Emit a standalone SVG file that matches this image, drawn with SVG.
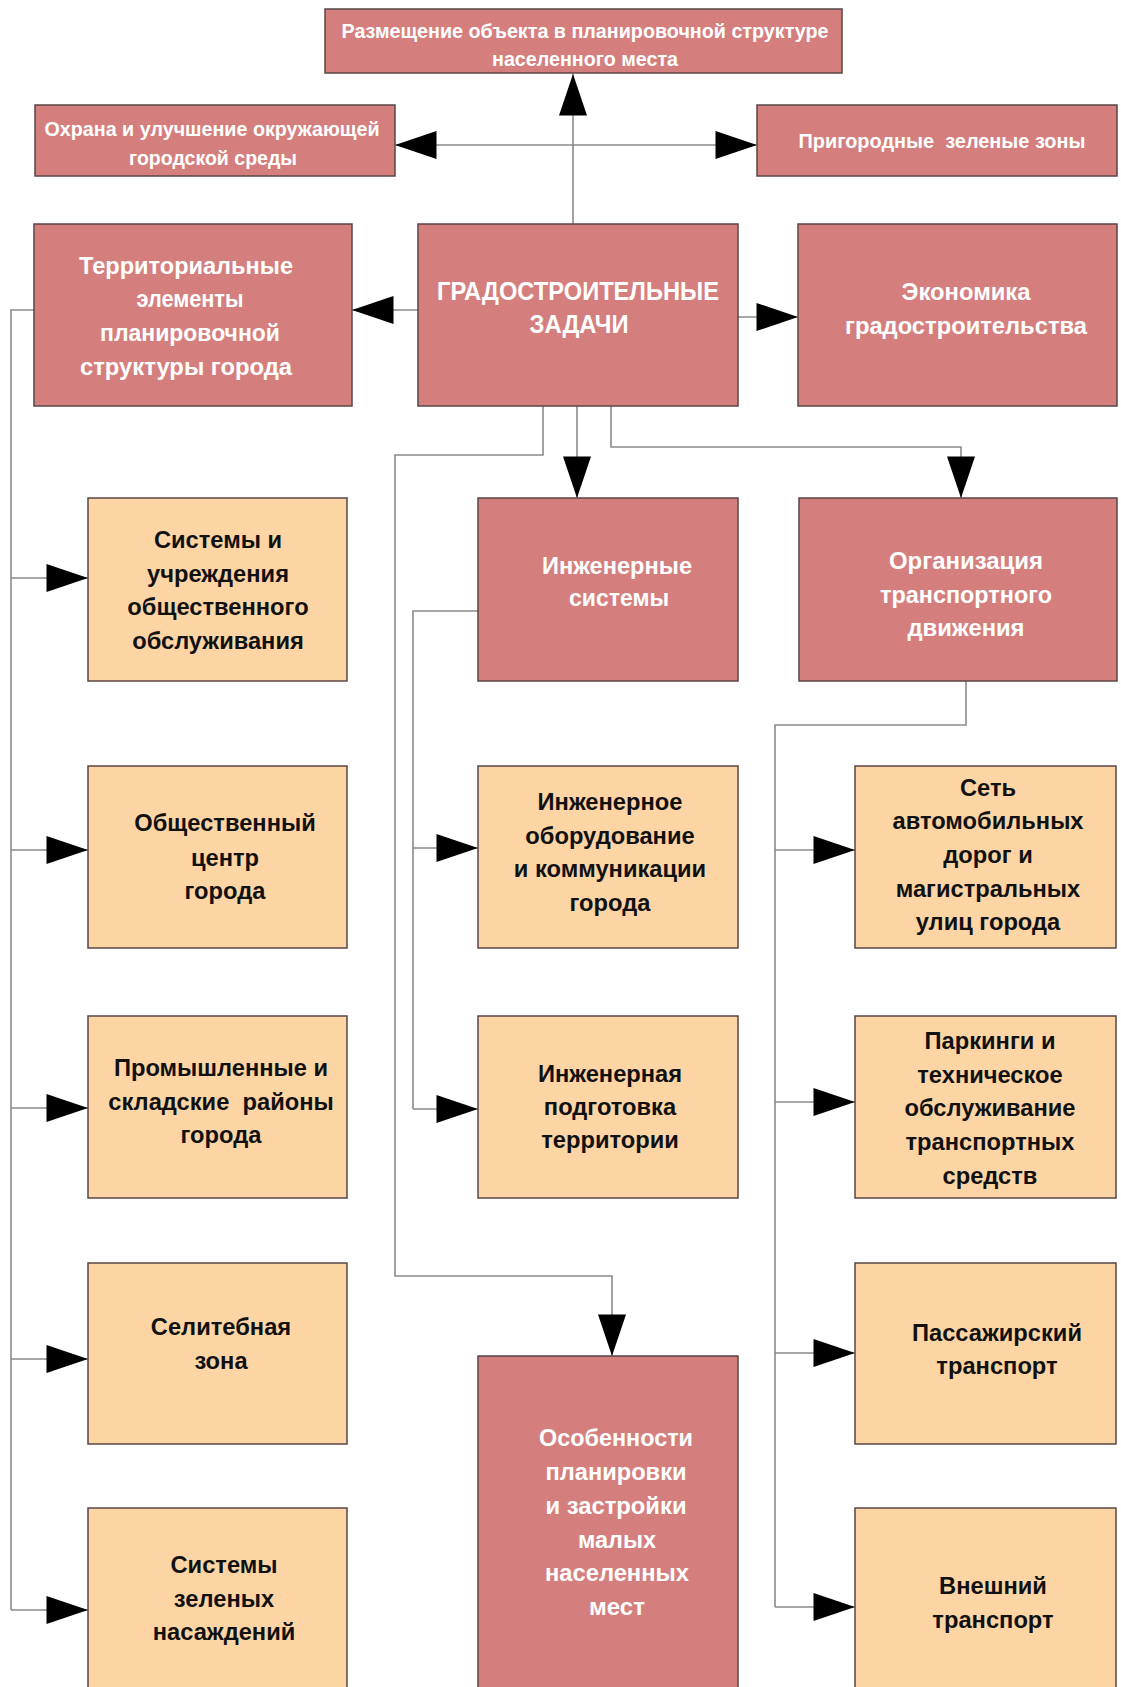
<svg xmlns="http://www.w3.org/2000/svg" width="1121" height="1687" viewBox="0 0 1121 1687">
<style>
.r{fill:#d47f7e;stroke:#5a4646;stroke-width:1.5}
.o{fill:#fdd5a5;stroke:#5a4646;stroke-width:1.5}
.tw{font-family:"Liberation Sans",Arial,sans-serif;font-weight:bold;fill:#ffffff;text-anchor:middle;dominant-baseline:central;white-space:pre}
.tb{font-family:"Liberation Sans",Arial,sans-serif;font-weight:bold;fill:#111111;text-anchor:middle;dominant-baseline:central;font-size:23.7px;white-space:pre}
.c{fill:none;stroke:#8a8a8a;stroke-width:1.6}
.a{marker-end:url(#ah)}
</style>
<defs>
<marker id="ah" markerUnits="userSpaceOnUse" markerWidth="42" markerHeight="28" refX="40" refY="13.5" orient="auto-start-reverse" viewBox="0 0 40 27">
<path d="M0,0 L40,13.5 L0,27 z" fill="#000"/>
</marker>
</defs>
<rect width="1121" height="1687" fill="#ffffff"/>
<g id="connectors">
<path class="c a" d="M573,224 V74"/>
<path class="c" d="M395,145 H757" marker-start="url(#ah)" marker-end="url(#ah)"/>
<path class="c a" d="M418,310 H352"/>
<path class="c a" d="M738,317 H798"/>
<path class="c a" d="M577,406 V498"/>
<path class="c a" d="M611,406 V447 H961 V498"/>
<path class="c a" d="M543,406 V455 H395 V1276 H612 V1356"/>
<path class="c" d="M34,310 H11 V1610"/>
<path class="c a" d="M11,578 H88"/>
<path class="c a" d="M11,850 H88"/>
<path class="c a" d="M11,1108 H88"/>
<path class="c a" d="M11,1359 H88"/>
<path class="c a" d="M11,1610 H88"/>
<path class="c" d="M478,611 H413 V1109"/>
<path class="c a" d="M413,848 H478"/>
<path class="c a" d="M413,1109 H478"/>
<path class="c" d="M966,681 V725 H775 V1607"/>
<path class="c a" d="M775,850 H855"/>
<path class="c a" d="M775,1102 H855"/>
<path class="c a" d="M775,1353 H855"/>
<path class="c a" d="M775,1607 H855"/>
</g>
<g id="n-razmeshenie">
<rect class="r" x="325" y="9" width="517" height="64"/>
<text class="tw" font-size="21" x="585" y="30" textLength="487" lengthAdjust="spacingAndGlyphs">Размещение объекта в планировочной структуре</text>
<text class="tw" font-size="21" x="585" y="58" textLength="186" lengthAdjust="spacingAndGlyphs">населенного места</text>
</g>
<g id="n-ohrana">
<rect class="r" x="35" y="105" width="360" height="71"/>
<text class="tw" font-size="21" x="212" y="128" textLength="335" lengthAdjust="spacingAndGlyphs">Охрана и улучшение окружающей</text>
<text class="tw" font-size="21" x="213" y="157" textLength="168" lengthAdjust="spacingAndGlyphs">городской среды</text>
</g>
<g id="n-prigorod">
<rect class="r" x="757" y="105" width="360" height="71"/>
<text class="tw" font-size="21" x="942" y="140" textLength="287" lengthAdjust="spacingAndGlyphs">Пригородные  зеленые зоны</text>
</g>
<g id="n-territ">
<rect class="r" x="34" y="224" width="318" height="182"/>
<text class="tw" font-size="24" x="186" y="265" textLength="214" lengthAdjust="spacingAndGlyphs">Территориальные</text>
<text class="tw" font-size="24" x="190" y="298" textLength="107" lengthAdjust="spacingAndGlyphs">элементы</text>
<text class="tw" font-size="24" x="190" y="332" textLength="180" lengthAdjust="spacingAndGlyphs">планировочной</text>
<text class="tw" font-size="24" x="186" y="366" textLength="212" lengthAdjust="spacingAndGlyphs">структуры города</text>
</g>
<g id="n-main">
<rect class="r" x="418" y="224" width="320" height="182"/>
<text class="tw" font-size="25" x="578" y="291" textLength="282" lengthAdjust="spacingAndGlyphs">ГРАДОСТРОИТЕЛЬНЫЕ</text>
<text class="tw" font-size="25" x="579" y="324" textLength="99" lengthAdjust="spacingAndGlyphs">ЗАДАЧИ</text>
</g>
<g id="n-econ">
<rect class="r" x="798" y="224" width="319" height="182"/>
<text class="tw" font-size="24" x="966" y="291" textLength="129" lengthAdjust="spacingAndGlyphs">Экономика</text>
<text class="tw" font-size="24" x="966" y="325" textLength="242" lengthAdjust="spacingAndGlyphs">градостроительства</text>
</g>
<g id="n-inzhsys">
<rect class="r" x="478" y="498" width="260" height="183"/>
<text class="tw" font-size="24" x="617" y="565" textLength="150" lengthAdjust="spacingAndGlyphs">Инженерные</text>
<text class="tw" font-size="24" x="619" y="597" textLength="100" lengthAdjust="spacingAndGlyphs">системы</text>
</g>
<g id="n-org">
<rect class="r" x="799" y="498" width="318" height="183"/>
<text class="tw" font-size="24" x="966" y="560" textLength="154" lengthAdjust="spacingAndGlyphs">Организация</text>
<text class="tw" font-size="24" x="966" y="594" textLength="172" lengthAdjust="spacingAndGlyphs">транспортного</text>
<text class="tw" font-size="24" x="966" y="627" textLength="117" lengthAdjust="spacingAndGlyphs">движения</text>
</g>
<g id="n-osob">
<rect class="r" x="478" y="1356" width="260" height="345"/>
<text class="tw" font-size="24" x="616" y="1437" textLength="154" lengthAdjust="spacingAndGlyphs">Особенности</text>
<text class="tw" font-size="24" x="616" y="1471" textLength="141" lengthAdjust="spacingAndGlyphs">планировки</text>
<text class="tw" font-size="24" x="616" y="1505" textLength="141" lengthAdjust="spacingAndGlyphs">и застройки</text>
<text class="tw" font-size="24" x="617" y="1539" textLength="78" lengthAdjust="spacingAndGlyphs">малых</text>
<text class="tw" font-size="24" x="617" y="1572" textLength="144" lengthAdjust="spacingAndGlyphs">населенных</text>
<text class="tw" font-size="24" x="617" y="1606" textLength="56" lengthAdjust="spacingAndGlyphs">мест</text>
</g>
<g id="n-sistemy-obsl">
<rect class="o" x="88" y="498" width="259" height="183"/>
<text class="tb" x="218" y="540">Системы и</text>
<text class="tb" x="218" y="574">учреждения</text>
<text class="tb" x="218" y="607">общественного</text>
<text class="tb" x="218" y="641">обслуживания</text>
</g>
<g id="n-obsh-centr">
<rect class="o" x="88" y="766" width="259" height="182"/>
<text class="tb" x="225" y="823">Общественный</text>
<text class="tb" x="225" y="858">центр</text>
<text class="tb" x="225" y="891">города</text>
</g>
<g id="n-prom">
<rect class="o" x="88" y="1016" width="259" height="182"/>
<text class="tb" x="221" y="1068">Промышленные и</text>
<text class="tb" x="221" y="1102">складские  районы</text>
<text class="tb" x="221" y="1135">города</text>
</g>
<g id="n-selit">
<rect class="o" x="88" y="1263" width="259" height="181"/>
<text class="tb" x="221" y="1327">Селитебная</text>
<text class="tb" x="221" y="1361">зона</text>
</g>
<g id="n-zelen">
<rect class="o" x="88" y="1508" width="259" height="193"/>
<text class="tb" x="224" y="1565">Системы</text>
<text class="tb" x="224" y="1599">зеленых</text>
<text class="tb" x="224" y="1632">насаждений</text>
</g>
<g id="n-inzh-obor">
<rect class="o" x="478" y="766" width="260" height="182"/>
<text class="tb" x="610" y="802">Инженерное</text>
<text class="tb" x="610" y="836">оборудование</text>
<text class="tb" x="610" y="869">и коммуникации</text>
<text class="tb" x="610" y="903">города</text>
</g>
<g id="n-inzh-podg">
<rect class="o" x="478" y="1016" width="260" height="182"/>
<text class="tb" x="610" y="1074">Инженерная</text>
<text class="tb" x="610" y="1107">подготовка</text>
<text class="tb" x="610" y="1140">территории</text>
</g>
<g id="n-set">
<rect class="o" x="855" y="766" width="261" height="182"/>
<text class="tb" x="988" y="788">Сеть</text>
<text class="tb" x="988" y="821">автомобильных</text>
<text class="tb" x="988" y="855">дорог и</text>
<text class="tb" x="988" y="889">магистральных</text>
<text class="tb" x="988" y="922">улиц города</text>
</g>
<g id="n-parking">
<rect class="o" x="855" y="1016" width="261" height="182"/>
<text class="tb" x="990" y="1041">Паркинги и</text>
<text class="tb" x="990" y="1075">техническое</text>
<text class="tb" x="990" y="1108">обслуживание</text>
<text class="tb" x="990" y="1142">транспортных</text>
<text class="tb" x="990" y="1176">средств</text>
</g>
<g id="n-pass">
<rect class="o" x="855" y="1263" width="261" height="181"/>
<text class="tb" x="997" y="1333">Пассажирский</text>
<text class="tb" x="997" y="1366">транспорт</text>
</g>
<g id="n-vnesh">
<rect class="o" x="855" y="1508" width="261" height="193"/>
<text class="tb" x="993" y="1586">Внешний</text>
<text class="tb" x="993" y="1620">транспорт</text>
</g>
</svg>
